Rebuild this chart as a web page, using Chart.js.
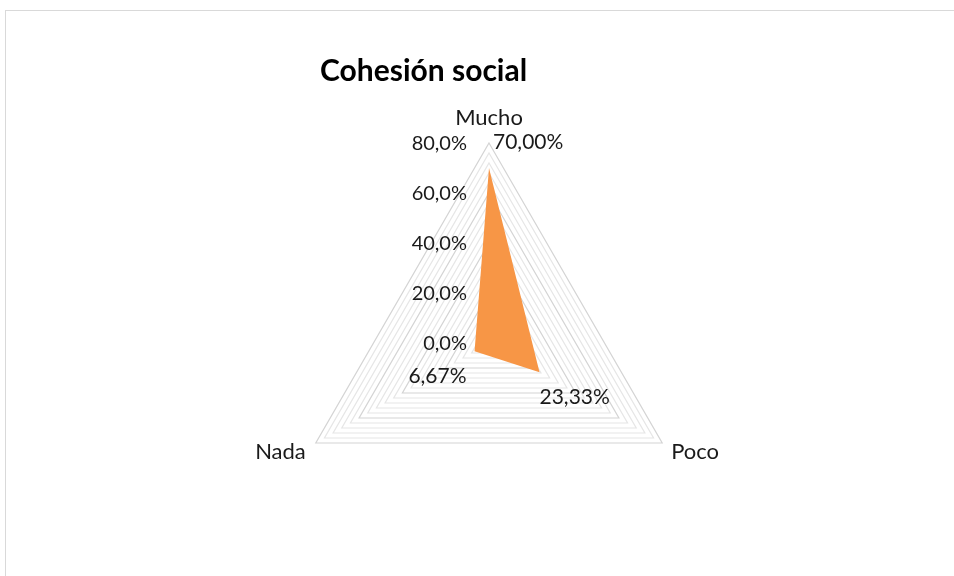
<!DOCTYPE html>
<html>
<head>
<meta charset="utf-8">
<script src="https://cdn.jsdelivr.net/npm/chart.js@4"></script>
<style>
  html, body { margin: 0; padding: 0; background: #fff; }
  #wrap { width: 954px; height: 576px; position: relative; }
</style>
</head>
<body>
<div id="wrap"><canvas id="grafico"></canvas></div>
<script>
const titulo = 'Cohesión social';
const categorias = ['Mucho', 'Poco', 'Nada'];
const valores = [70.00, 23.33, 6.67];
const marcasEje = [0, 20, 40, 60, 80];

const fuente = "Lato, 'Noto Sans', sans-serif";

function pct(v, dec) {
  return v.toFixed(dec).replace('.', ',') + '%';
}

const textosPlugin = {
  id: 'textos',
  beforeDraw(chart) {
    const ctx = chart.ctx;
    ctx.save();
    ctx.strokeStyle = '#d9d9d9';
    ctx.lineWidth = 1;
    ctx.strokeRect(5.5, 10.5, 1000, 700);
    ctx.restore();
  },
  afterDraw(chart) {
    const ctx = chart.ctx;
    const r = chart.scales.r;
    ctx.save();
    ctx.fillStyle = '#000';

    // titulo
    ctx.font = 'bold 30px ' + fuente;
    ctx.textAlign = 'left';
    ctx.textBaseline = 'middle';
    ctx.fillText(titulo, 320, 71);

    // etiquetas del eje
    ctx.fillStyle = '#1a1a1a';
    ctx.font = '20px ' + fuente;
    ctx.textAlign = 'right';
    marcasEje.forEach(v => {
      const y = r.yCenter - r.getDistanceFromCenterForValue(v);
      ctx.fillText(pct(v, 1), r.xCenter - 22, y + 1);
    });

    // categorias
    ctx.font = '22px ' + fuente;
    const tope = r.getPointPositionForValue(0, r.max);
    ctx.textAlign = 'center';
    ctx.fillText(categorias[0], tope.x, tope.y - 25);
    const der = r.getPointPositionForValue(1, r.max);
    ctx.textAlign = 'left';
    ctx.fillText(categorias[1], der.x + 9, der.y + 9);
    const izq = r.getPointPositionForValue(2, r.max);
    ctx.textAlign = 'right';
    ctx.fillText(categorias[2], izq.x - 10, izq.y + 9);

    // etiquetas de datos
    ctx.font = '21px ' + fuente;
    const offs = [
      { dx: 4, dy: -26, al: 'left' },
      { dx: 0, dy: 25, al: 'left' },
      { dx: -8, dy: 25, al: 'right' }
    ];
    valores.forEach((v, i) => {
      const p = r.getPointPositionForValue(i, v);
      ctx.textAlign = offs[i].al;
      ctx.fillText(pct(v, 2), p.x + offs[i].dx, p.y + offs[i].dy);
    });
    ctx.restore();
  }
};

new Chart(document.getElementById('grafico'), {
  type: 'radar',
  data: {
    labels: categorias,
    datasets: [{
      data: valores,
      backgroundColor: '#f79646',
      borderWidth: 0,
      pointRadius: 0
    }]
  },
  options: {
    responsive: true,
    maintainAspectRatio: false,
    animation: false,
    layout: { padding: { left: 289, right: 265, top: 143, bottom: 33 } },
    plugins: {
      legend: { display: false },
      title: { display: false },
      tooltip: { enabled: false }
    },
    scales: {
      r: {
        min: 0,
        max: 80,
        ticks: { stepSize: 4, display: false },
        angleLines: { display: false },
        pointLabels: { display: false },
        grid: {
          color: c => (c.tick && c.tick.value % 20 === 0) ? '#d4d4d4' : '#e6e6e6',
          lineWidth: 1.2
        }
      }
    }
  },
  plugins: [textosPlugin]
});
</script>
</body>
</html>
